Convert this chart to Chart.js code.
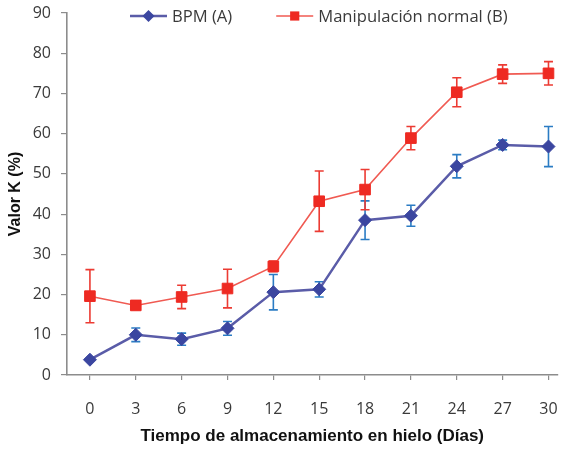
<!DOCTYPE html>
<html>
<head>
<meta charset="utf-8">
<script src="https://cdn.jsdelivr.net/npm/chart.js@4.4.1/dist/chart.umd.min.js"></script>
<style>
  html, body { margin: 0; padding: 0; background: #ffffff; }
  #wrap { width: 566px; height: 452px; }
</style>
</head>
<body>
<div id="wrap"><canvas id="c" width="566" height="452"></canvas></div>
<script>
// ---- data ----
const days = [0, 3, 6, 9, 12, 15, 18, 21, 24, 27, 30];
const bpm = [3.8, 10.0, 8.9, 11.6, 20.6, 21.3, 38.5, 39.6, 51.9, 57.2, 56.8];
const bpmErr = [0, 1.7, 1.5, 1.7, 4.4, 1.9, 4.8, 2.6, 2.9, 1.2, 5.0];
const normal = [19.6, 17.3, 19.4, 21.5, 27.0, 43.2, 46.1, 58.9, 70.3, 74.8, 75.0];
const normalErr = [6.6, 0, 2.9, 4.8, 1.3, 7.5, 5.0, 2.9, 3.6, 2.3, 2.9];
const seriesLabels = ['BPM (A)', 'Manipulación normal (B)'];
const yTicks = [0, 10, 20, 30, 40, 50, 60, 70, 80, 90];
const xTitle = 'Tiempo de almacenamiento en hielo (Días)';
const yTitle = 'Valor K (%)';

const TEXT = '#3a3a3a';
const AXIS = '#8c8c8c';

function toPoints(vals) { return days.map((d, i) => ({ x: d, y: vals[i] })); }

function drawMarker(ctx, style, x, y, r, color) {
  ctx.fillStyle = color;
  ctx.beginPath();
  if (style === 'rectRot') {
    ctx.moveTo(x - r, y); ctx.lineTo(x, y - r); ctx.lineTo(x + r, y); ctx.lineTo(x, y + r);
    ctx.closePath();
  } else {
    const s = r * Math.SQRT1_2;
    ctx.rect(x - s, y - s, 2 * s, 2 * s);
  }
  ctx.fill();
}

const errorBars = {
  id: 'errorBars',
  beforeDatasetsDraw(chart) {
    const ctx = chart.ctx;
    const ys = chart.scales.y;
    chart.data.datasets.forEach((ds, i) => {
      const meta = chart.getDatasetMeta(i);
      ctx.save();
      ctx.strokeStyle = ds.errorColor;
      ctx.lineWidth = 1.6;
      meta.data.forEach((pt, j) => {
        const e = ds.errors[j];
        if (!e) return;
        const v = ds.data[j].y;
        const yt = ys.getPixelForValue(v + e);
        const yb = ys.getPixelForValue(v - e);
        const x = pt.x;
        ctx.beginPath();
        ctx.moveTo(x, yt); ctx.lineTo(x, yb);
        ctx.moveTo(x - 4.5, yt); ctx.lineTo(x + 4.5, yt);
        ctx.moveTo(x - 4.5, yb); ctx.lineTo(x + 4.5, yb);
        ctx.stroke();
      });
      ctx.restore();
    });
  }
};

const lineLegend = {
  id: 'lineLegend',
  afterDraw(chart) {
    const ctx = chart.ctx;
    ctx.save();
    ctx.font = '16.6px "Open Sans"';
    const sw = 37, gap = 5, between = 44;
    let x = 130;
    const y = 16;
    chart.data.datasets.forEach(ds => {
      const w = ctx.measureText(ds.label).width;
      ctx.strokeStyle = ds.borderColor;
      ctx.lineWidth = ds.borderWidth;
      ctx.beginPath();
      ctx.moveTo(x, y); ctx.lineTo(x + sw, y);
      ctx.stroke();
      drawMarker(ctx, ds.pointStyle, x + sw / 2, y, ds.pointStyle === 'rectRot' ? 6 : 6.5, ds.pointBackgroundColor);
      ctx.fillStyle = TEXT;
      ctx.textBaseline = 'middle';
      ctx.textAlign = 'left';
      ctx.fillText(ds.label, x + sw + gap, y + 1);
      x += sw + gap + w + between;
    });
    ctx.restore();
  }
};

new Chart(document.getElementById('c'), {
  type: 'line',
  data: {
    datasets: [
      {
        label: seriesLabels[0],
        data: toPoints(bpm),
        errors: bpmErr,
        errorColor: '#2b7cc4',
        borderColor: '#5a5ca8',
        borderWidth: 2.5,
        pointStyle: 'rectRot',
        pointRadius: 6.5,
        pointHoverRadius: 6.5,
        pointBackgroundColor: '#3b46a0',
        pointBorderColor: '#3b46a0',
        pointBorderWidth: 1,
        tension: 0
      },
      {
        label: seriesLabels[1],
        data: toPoints(normal),
        errors: normalErr,
        errorColor: '#ec3b33',
        borderColor: '#f05a52',
        borderWidth: 1.6,
        pointStyle: 'rect',
        pointRadius: 7.5,
        pointHoverRadius: 7.5,
        pointBackgroundColor: '#ee2a22',
        pointBorderColor: '#ee2a22',
        pointBorderWidth: 1,
        tension: 0
      }
    ]
  },
  options: {
    responsive: false,
    animation: false,
    events: [],
    layout: { padding: { top: 13, right: 4, left: 0, bottom: 0 } },
    plugins: { legend: { display: false }, tooltip: { enabled: false } },
    scales: {
      x: {
        type: 'linear',
        min: -1.5,
        max: 30.59,
        afterBuildTicks: (s) => { s.ticks = days.map(v => ({ value: v })); },
        afterFit: (s) => { s.height = 77; s.paddingLeft = 0; s.paddingRight = 0; },
        grid: { display: true, drawOnChartArea: false, drawTicks: true, tickLength: 5, color: AXIS, lineWidth: 1.2 },
        border: { display: true, color: AXIS, width: 1.6 },
        ticks: { color: TEXT, font: { family: 'Open Sans', size: 16 }, padding: 20, maxRotation: 0 },
        title: { display: true, text: xTitle, color: '#111111', font: { family: 'Liberation Sans', size: 17, weight: 'bold' }, padding: { top: 0, bottom: 5 } }
      },
      y: {
        min: 0,
        max: 90,
        afterBuildTicks: (s) => { s.ticks = yTicks.map(v => ({ value: v })); },
        afterFit: (s) => { s.width = 67; s.paddingTop = 0; s.paddingBottom = 0; },
        grid: { display: true, drawOnChartArea: false, drawTicks: true, tickLength: 6, color: AXIS, lineWidth: 1.2 },
        border: { display: true, color: AXIS, width: 1.6 },
        ticks: { color: TEXT, font: { family: 'Open Sans', size: 16 }, padding: 10 },
        title: { display: true, text: yTitle, color: '#111111', font: { family: 'Liberation Sans', size: 16, weight: 'bold' }, padding: { top: 6, bottom: 0 } }
      }
    }
  },
  plugins: [errorBars, lineLegend]
});
</script>
</body>
</html>
